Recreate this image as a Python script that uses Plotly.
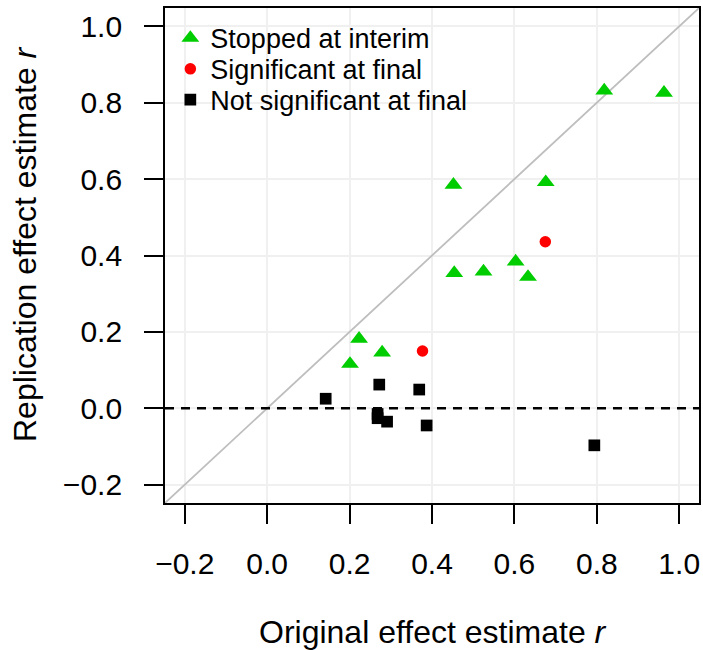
import plotly.graph_objects as go

# ---- data ----
stopped_x = [0.818, 0.963, 0.676, 0.452, 0.454, 0.525, 0.603, 0.633, 0.223, 0.279, 0.201]
stopped_y = [0.832, 0.826, 0.592, 0.585, 0.354, 0.358, 0.384, 0.344, 0.182, 0.146, 0.116]

signif_x = [0.675, 0.377]
signif_y = [0.436, 0.150]

notsig_x = [0.142, 0.272, 0.369, 0.268, 0.268, 0.291, 0.387, 0.794]
notsig_y = [0.025, 0.062, 0.049, -0.015, -0.026, -0.035, -0.045, -0.097]

tick_values = [-0.2, 0.0, 0.2, 0.4, 0.6, 0.8, 1.0]
tick_labels = ["\u22120.2", "0.0", "0.2", "0.4", "0.6", "0.8", "1.0"]

series_names = ["Stopped at interim", "Significant at final", "Not significant at final"]
x_title = "Original effect estimate <i>r</i>"
y_title = "Replication effect estimate <i>r</i>"

axis_range = [-0.248, 1.048]

FONT = "Liberation Sans, Arial, Helvetica, sans-serif"

fig = go.Figure()

fig.add_trace(go.Scatter(
    x=stopped_x, y=stopped_y, mode="markers", name=series_names[0],
    marker=dict(symbol="triangle-up", size=15.5, color="#00CD00"),
    legend="legend",
))
fig.add_trace(go.Scatter(
    x=signif_x, y=signif_y, mode="markers", name=series_names[1],
    marker=dict(symbol="circle", size=11.5, color="#FF0000"),
    legend="legend2",
))
fig.add_trace(go.Scatter(
    x=notsig_x, y=notsig_y, mode="markers", name=series_names[2],
    marker=dict(symbol="square", size=11.7, color="#000000"),
    legend="legend3",
))

# identity line and zero line
fig.add_shape(type="line", xref="x", yref="y",
              x0=axis_range[0], y0=axis_range[0], x1=axis_range[1], y1=axis_range[1],
              line=dict(color="#BEBEBE", width=1.8), layer="between")
fig.add_shape(type="line", xref="x", yref="y",
              x0=axis_range[0], y0=0, x1=axis_range[1], y1=0,
              line=dict(color="#000000", width=2.5, dash="9px,7px"), layer="between")

common_axis = dict(
    range=axis_range,
    tickmode="array",
    tickvals=tick_values,
    ticktext=tick_labels,
    ticks="outside",
    ticklen=19,
    tickwidth=1.8,
    tickcolor="#000000",
    showline=True,
    linecolor="#000000",
    linewidth=1.8,
    mirror=True,
    showgrid=True,
    gridcolor="#F0F0F0",
    gridwidth=2,
    zeroline=False,
    tickfont=dict(family=FONT, size=30, color="#000000"),
)

fig.update_xaxes(**common_axis, ticklabelstandoff=14)
fig.update_yaxes(**common_axis, ticklabelstandoff=16)

# axis titles
fig.add_annotation(text=x_title, xref="paper", yref="paper",
                   x=0.5028, y=-0.2606, xanchor="center", yanchor="middle",
                   showarrow=False, font=dict(family=FONT, size=32, color="#000000"))
fig.add_annotation(text=y_title, xref="paper", yref="paper",
                   x=-0.2622, y=0.5232, xanchor="center", yanchor="middle",
                   textangle=-90,
                   showarrow=False, font=dict(family=FONT, size=32, color="#000000"))

legend_common = dict(
    x=0.01, xanchor="left", yanchor="middle",
    bgcolor="rgba(0,0,0,0)",
    font=dict(family=FONT, size=27, color="#000000"),
    itemsizing="trace",
)

fig.update_layout(
    width=703, height=650,
    margin=dict(l=165, r=4, t=8, b=147, autoexpand=False),
    plot_bgcolor="#FFFFFF",
    paper_bgcolor="#FFFFFF",
    showlegend=True,
    legend=dict(y=0.9386, **legend_common),
    legend2=dict(y=0.8762, **legend_common),
    legend3=dict(y=0.8141, **legend_common),
)

fig.write_html(
    "out.html",
    config={"displayModeBar": False},
    post_script="document.body.style.margin='0';document.body.style.overflow='hidden';",
)
